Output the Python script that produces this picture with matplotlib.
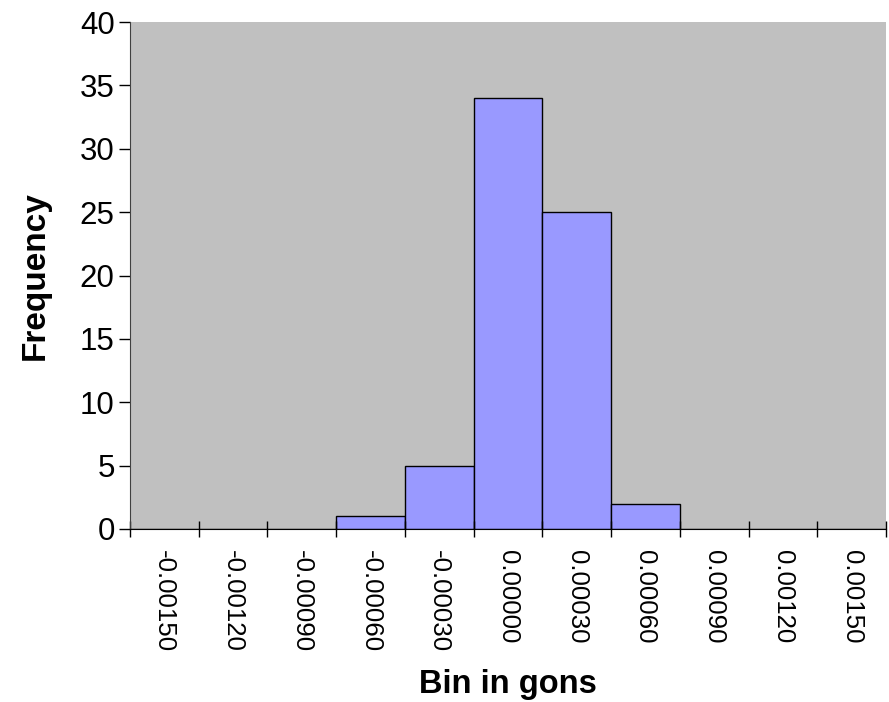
import matplotlib.pyplot as plt
import numpy as np

plt.rcParams["font.family"] = ["Liberation Sans", "DejaVu Sans"]

# histogram bins (gons) and frequencies
bins = ["-0.00150", "-0.00120", "-0.00090", "-0.00060", "-0.00030",
        "0.00000", "0.00030", "0.00060", "0.00090", "0.00120", "0.00150"]
freq = [0, 0, 0, 1, 5, 34, 25, 2, 0, 0, 0]

fig = plt.figure(figsize=(8.89, 7.02), dpi=100)
ax = fig.add_axes([130 / 889, 1 - 529 / 702, 756 / 889, 507 / 702])
ax.set_facecolor("#C0C0C0")

x = np.arange(len(bins))
ax.bar(x, freq, width=1.0, color="#9999FF", edgecolor="black", linewidth=1.0)

ax.set_xlim(-0.5, len(bins) - 0.5)
ax.set_ylim(0, 40)
ax.set_yticks(range(0, 41, 5))

# tick marks on bin edges, labels in the middle of each bin
ax.set_xticks(np.arange(len(bins) + 1) - 0.5)
ax.set_xticklabels([])
ax.set_xticks(x, minor=True)
ax.set_xticklabels(bins, minor=True, rotation=270, fontsize=18.6)
ax.tick_params(axis="x", which="major", direction="inout", length=12, width=1)
ax.tick_params(axis="x", which="minor", length=0, pad=15)
ax.tick_params(axis="y", direction="out", length=8, width=1, labelsize=22.5, pad=3)

for s in ["top", "right"]:
    ax.spines[s].set_visible(False)
ax.spines["left"].set_color("#404040")

ax.set_ylabel("Frequency", fontsize=24, fontweight="bold", va="center")
ax.yaxis.set_label_coords((35 - 130) / 756, 0.5)
ax.set_xlabel("Bin in gons", fontsize=23.5, fontweight="bold", va="center")
ax.xaxis.set_label_coords(0.5, (529 - 685) / 507)

fig.savefig("out.png", dpi=100)
